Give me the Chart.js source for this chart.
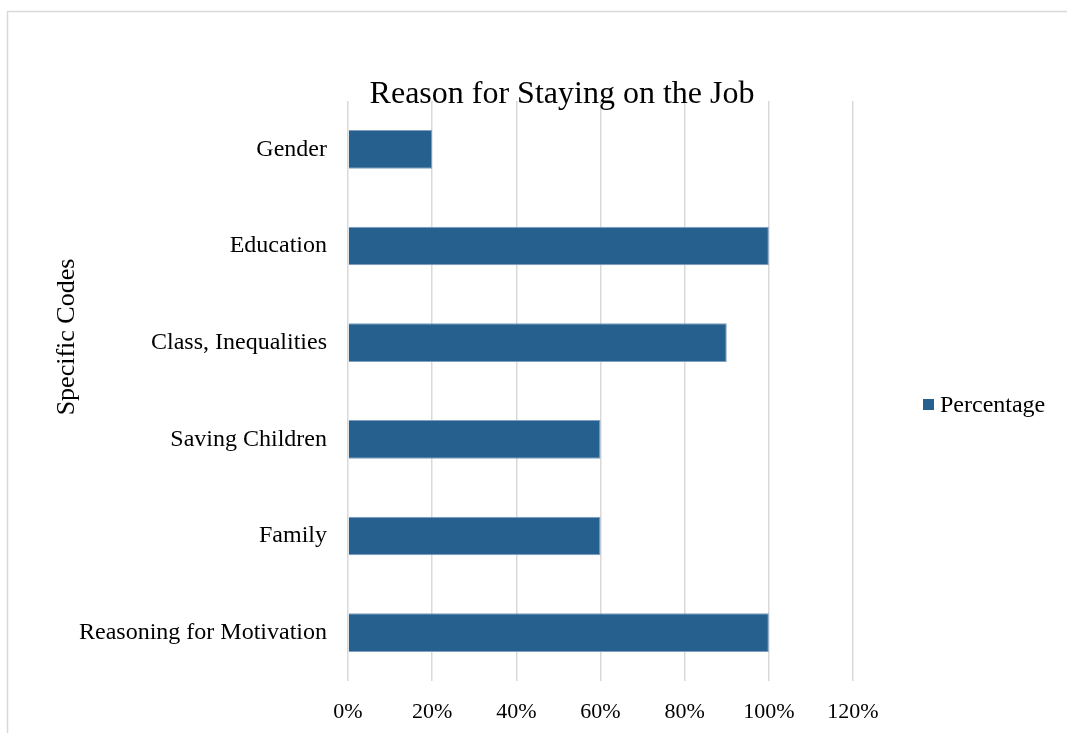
<!DOCTYPE html>
<html>
<head>
<meta charset="utf-8">
<script src="https://cdn.jsdelivr.net/npm/chart.js@4/dist/chart.umd.min.js"></script>
<style>
  html, body { margin: 0; padding: 0; background: #ffffff; }
  #wrap { width: 1067px; height: 733px; position: relative; }
</style>
</head>
<body>
<div id="wrap"><canvas id="c" width="1067" height="733"></canvas></div>
<script>
const categories = ["Gender", "Education", "Class, Inequalities", "Saving Children", "Family", "Reasoning for Motivation"];
const percentage = [0.20, 1.00, 0.90, 0.60, 0.60, 1.00];
const seriesName = "Percentage";
const xTickValues = [0, 0.2, 0.4, 0.6, 0.8, 1.0, 1.2];
const chartTitle = "Reason for Staying on the Job";
const yAxisTitle = "Specific Codes";

const FONT = "'Liberation Serif', 'Times New Roman', serif";
const BAR_COLOR = "#26608f";

const decorPlugin = {
  id: 'decor',
  beforeDraw(chart) {
    const ctx = chart.ctx;
    ctx.save();
    ctx.strokeStyle = '#d9d9d9';
    ctx.lineWidth = 1.5;
    ctx.strokeRect(7.5, 11.5, 1100, 760);
    ctx.restore();
  },
  afterDraw(chart) {
    const ctx = chart.ctx;
    const a = chart.chartArea;
    ctx.save();
    // title
    ctx.fillStyle = '#000';
    ctx.font = "32px " + FONT;
    ctx.textAlign = 'center';
    ctx.textBaseline = 'alphabetic';
    ctx.fillText(chartTitle, 562, a.top + 2);
    // y axis title
    ctx.save();
    ctx.translate(67, 337);
    ctx.rotate(-Math.PI / 2);
    ctx.font = "26px " + FONT;
    ctx.textAlign = 'center';
    ctx.textBaseline = 'middle';
    ctx.fillText(yAxisTitle, 0, 0);
    ctx.restore();
    // legend
    const ds = chart.data.datasets[0];
    const lx = a.right + 70;
    const ly = (a.top + a.bottom) / 2 + 14;
    ctx.fillStyle = ds.backgroundColor;
    ctx.fillRect(lx, ly - 6, 11, 11);
    ctx.fillStyle = '#000';
    ctx.font = "24px " + FONT;
    ctx.textAlign = 'left';
    ctx.textBaseline = 'middle';
    ctx.fillText(ds.label, lx + 17, ly + 1);
    ctx.restore();
  }
};

new Chart(document.getElementById('c'), {
  type: 'bar',
  data: {
    labels: categories,
    datasets: [{
      label: seriesName,
      data: percentage,
      backgroundColor: BAR_COLOR,
      borderColor: '#7e9fbf',
      borderWidth: 1,
      barPercentage: 0.4,
      categoryPercentage: 1.0
    }]
  },
  options: {
    indexAxis: 'y',
    responsive: false,
    animation: false,
    devicePixelRatio: 1,
    layout: { padding: { top: 101, right: 214, left: 0, bottom: 0 } },
    plugins: {
      legend: { display: false },
      title: { display: false },
      tooltip: { enabled: false }
    },
    scales: {
      x: {
        min: 0,
        max: 1.2,
        afterBuildTicks(scale) { scale.ticks = xTickValues.map(v => ({ value: v })); },
        afterFit(scale) { scale.height = 52; },
        grid: { color: '#d9d9d9', lineWidth: 1.5, drawTicks: false },
        border: { display: false },
        ticks: {
          padding: 18,
          color: '#000',
          font: { family: FONT, size: 22 },
          callback: v => Math.round(v * 100) + '%'
        }
      },
      y: {
        afterFit(scale) { scale.width = 348; },
        grid: { display: false, drawTicks: false },
        border: { display: false },
        ticks: {
          padding: 21,
          color: '#000',
          font: { family: FONT, size: 24 }
        }
      }
    }
  },
  plugins: [decorPlugin]
});
</script>
</body>
</html>
